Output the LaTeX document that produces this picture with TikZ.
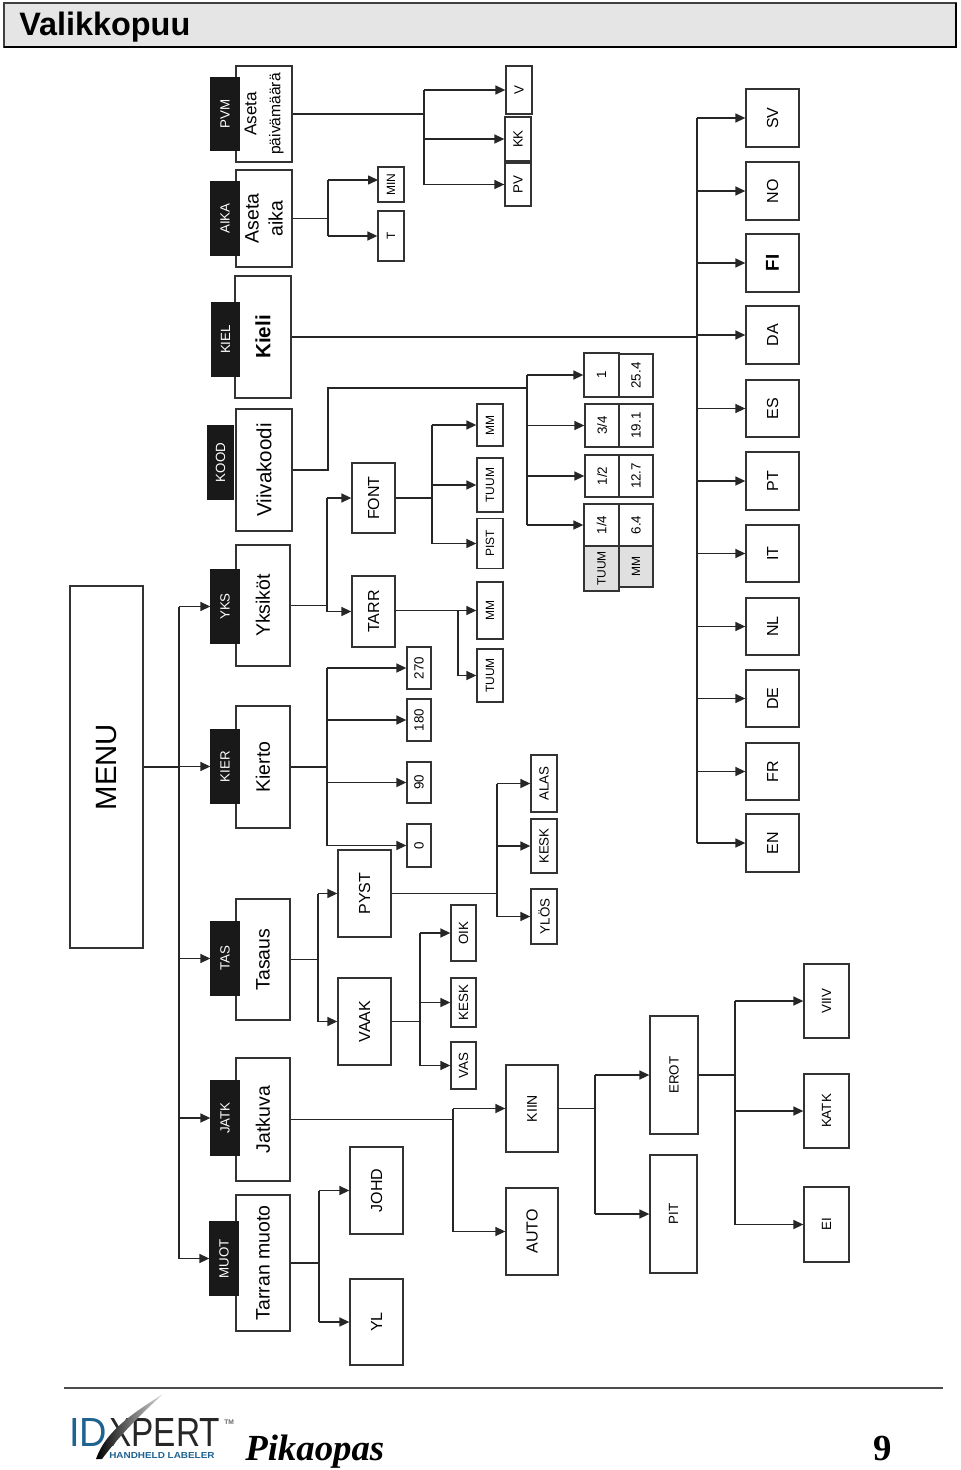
\documentclass[tikz,border=0pt]{standalone}
\usepackage{fontspec}
\usepackage{graphicx}
\setmainfont{Liberation Serif}
\setsansfont{Liberation Sans}
\usetikzlibrary{arrows.meta}

\definecolor{logoblue}{HTML}{1F6391}

\begin{document}
\begin{tikzpicture}[x=0.75pt, y=-0.75pt, >={Triangle[length=7.5pt,width=6.8pt]}]

  % ---------- Styling ----------
  \tikzset{
    dims/.style 2 args={minimum width=#1*0.75pt, minimum height=#2*0.75pt},
    cell/.style={draw=black!80, line width=1pt, rotate=90, inner sep=0pt, align=center, fill=white},
    menubox/.style={cell, font=\fontsize{22}{24}\selectfont\sffamily},
    mainbox/.style={cell, font=\fontsize{14.6}{18}\selectfont\sffamily},
    tabbox/.style={cell, draw=black!90, fill=black!90, text=white, font=\fontsize{10}{12}\selectfont\sffamily},
    subbox/.style={cell, font=\fontsize{12}{14}\selectfont\sffamily},
    leafbox/.style={cell, font=\fontsize{10}{12}\selectfont\sffamily},
    tinybox/.style={cell, font=\fontsize{9}{11}\selectfont\sffamily},
    wire/.style={draw=black!85, line width=1pt},
    link/.style={wire, ->}
  }

  \useasboundingbox (0,0) rectangle (960,1470);

  % ---------- Heading ----------
  \filldraw[fill=black!10, draw=black!75, line width=1pt] (4,3) rectangle (956,47);
  \draw[black, line width=2pt] (4,47) -- (956,47) -- (956,3);
  \node[anchor=base west, inner sep=0pt, font=\fontsize{24.3}{26}\selectfont\sffamily\bfseries] (heading) at (19,36) {Valikkopuu};

  % ---------- Root and top level ----------
  \node[menubox, dims={362}{73}] (menu) at (106.5,767) {MENU};

  \node[mainbox, dims={96}{56}] (datebox) at (264,114) {{\fontsize{12.8}{16}\selectfont Aseta}\\{\fontsize{11.7}{16}\selectfont päivämäärä}};
  \node[mainbox, dims={97}{56}] (timebox) at (264,218.5) {Aseta\\aika};
  \node[mainbox, dims={122}{56}, font=\fontsize{15.5}{18}\selectfont\sffamily\bfseries] (langbox) at (263,337) {Kieli};
  \node[mainbox, dims={122}{56}, font=\fontsize{15.4}{18}\selectfont\sffamily] (codebox) at (264,470) {Viivakoodi};
  \node[mainbox, dims={121}{54}] (unitbox) at (263,605.5) {Yksiköt};
  \node[mainbox, dims={122}{54}] (turnbox) at (263,767) {Kierto};
  \node[mainbox, dims={121}{54}] (alignbox) at (263,959.5) {Tasaus};
  \node[mainbox, dims={123}{54}] (feedbox) at (263,1119.5) {Jatkuva};
  \node[mainbox, dims={136}{54}] (shapebox) at (263,1263) {Tarran muoto};

  \node[tabbox, dims={72}{28}] (datetab) at (225,114) {PVM};
  \node[tabbox, dims={73}{28}] (timetab) at (225,218.5) {AIKA};
  \node[tabbox, dims={73}{28}] (langtab) at (225.5,339.5) {KIEL};
  \node[tabbox, dims={73}{26}] (codetab) at (220.5,462.5) {KOOD};
  \node[tabbox, dims={73}{28}] (unittab) at (225,606.5) {YKS};
  \node[tabbox, dims={73}{28}] (turntab) at (225,766.5) {KIER};
  \node[tabbox, dims={73}{28}] (aligntab) at (225,958.5) {TAS};
  \node[tabbox, dims={74}{28}] (feedtab) at (225,1118) {JATK};
  \node[tabbox, dims={73}{28}] (shapetab) at (224,1258.5) {MUOT};

  % ---------- Date and time ----------
  \node[leafbox, dims={48}{26}] (dayv) at (519,90) {V};
  \node[leafbox, dims={44}{26}] (daykk) at (518,139) {KK};
  \node[leafbox, dims={43}{26}] (daypv) at (518,184.5) {PV};
  \node[tinybox, dims={35}{26}] (timemin) at (391,184.5) {MIN};
  \node[tinybox, dims={50}{26}] (timet) at (391,236) {T};

  % ---------- Languages ----------
  \node[subbox, dims={58}{53}] (sv) at (772.5,118) {SV};
  \node[subbox, dims={58}{53}] (no) at (772.5,191) {NO};
  \node[subbox, dims={58}{53}, font=\fontsize{14}{16}\selectfont\sffamily\bfseries] (fi) at (772.5,263) {FI};
  \node[subbox, dims={58}{53}] (da) at (772.5,335) {DA};
  \node[subbox, dims={57}{53}] (es) at (772.5,408.5) {ES};
  \node[subbox, dims={58}{53}] (pt) at (772.5,481) {PT};
  \node[subbox, dims={57}{53}] (it) at (772.5,553.5) {IT};
  \node[subbox, dims={57}{53}] (nl) at (772.5,626.5) {NL};
  \node[subbox, dims={57}{53}] (de) at (772.5,698.5) {DE};
  \node[subbox, dims={57}{53}] (fr) at (772.5,771.5) {FR};
  \node[subbox, dims={58}{53}] (en) at (772.5,843) {EN};

  % ---------- Code table ----------
  \node[leafbox, dims={44}{35}] (one) at (601.5,375) {1};
  \node[leafbox, dims={43}{34}] (onemm) at (636,375.5) {25.4};
  \node[leafbox, dims={43}{34}] (threeq) at (602,425.5) {3/4};
  \node[leafbox, dims={43}{34}] (threeqmm) at (636,425.5) {19.1};
  \node[leafbox, dims={42}{34}] (half) at (602,476) {1/2};
  \node[leafbox, dims={42}{34}] (halfmm) at (636,476) {12.7};
  \node[leafbox, dims={42}{35}] (quarter) at (601.5,525) {1/4};
  \node[leafbox, dims={42}{34}] (quartermm) at (636,525) {6.4};
  \node[tinybox, dims={45}{35}, fill=black!12] (inchhead) at (601.5,568.5) {TUUM};
  \node[tinybox, dims={41}{34}, fill=black!12] (mmhead) at (636,566.5) {MM};

  % ---------- Units ----------
  \node[subbox, dims={70}{43}] (font) at (373.5,498) {FONT};
  \node[subbox, dims={71}{43}] (tarr) at (373.5,611.5) {TARR};
  \node[tinybox, dims={42}{26}] (fontmm) at (490,425) {MM};
  \node[tinybox, dims={54}{26}] (fontinch) at (490,485) {TUUM};
  \node[tinybox, dims={50}{26}] (fontpist) at (490,543.5) {PIST};
  \node[tinybox, dims={57}{26}] (tarrmm) at (490,610.5) {MM};
  \node[tinybox, dims={53}{26}] (tarrinch) at (490,675.5) {TUUM};

  % ---------- Rotation ----------
  \node[leafbox, dims={42}{24}] (deg270) at (419,668) {270};
  \node[leafbox, dims={42}{24}] (deg180) at (419,720) {180};
  \node[leafbox, dims={41}{24}] (deg90) at (419,782.5) {90};
  \node[leafbox, dims={43}{24}] (deg0) at (419,845.5) {0};

  % ---------- Alignment ----------
  \node[subbox, dims={87}{53}] (pyst) at (364.5,893.5) {PYST};
  \node[subbox, dims={87}{53}] (vaak) at (364.5,1021.5) {VAAK};
  \node[leafbox, dims={57}{26}] (alas) at (544,783.5) {ALAS};
  \node[leafbox, dims={54}{26}] (pystmid) at (544,846) {KESK};
  \node[leafbox, dims={55}{26}] (ylos) at (544,916.5) {YLÖS};
  \node[leafbox, dims={56}{25}] (oik) at (463.5,933) {OIK};
  \node[leafbox, dims={49}{25}] (vaakmid) at (463.5,1002.5) {KESK};
  \node[leafbox, dims={47}{25}] (vas) at (463.5,1065.5) {VAS};

  % ---------- Feed ----------
  \node[subbox, dims={87}{52}, font=\fontsize{10.5}{12}\selectfont\sffamily] (kiin) at (532,1108.5) {KIIN};
  \node[subbox, dims={87}{52}] (auto) at (532,1231.5) {AUTO};
  \node[leafbox, dims={118}{48}] (erot) at (674,1075) {EROT};
  \node[leafbox, dims={118}{47}] (pit) at (673.5,1214) {PIT};
  \node[leafbox, dims={74}{45}] (viiv) at (826.5,1001) {VIIV};
  \node[leafbox, dims={74}{45}] (katk) at (826.5,1111) {KATK};
  \node[leafbox, dims={75}{45}] (ei) at (826.5,1224.5) {EI};

  % ---------- Label shape ----------
  \node[subbox, dims={87}{53}] (johd) at (376.5,1190.5) {JOHD};
  \node[subbox, dims={86}{53}] (yl) at (376.5,1322) {YL};

  % ---------- Bus positions ----------
  \coordinate (menubus) at (179,0);
  \coordinate (datebus) at (424,0);
  \coordinate (timebus) at (328,0);
  \coordinate (minpin) at (378,180);
  \coordinate (langbus) at (697,0);
  \coordinate (codebend) at (328,388);
  \coordinate (codebus) at (527,0);
  \coordinate (unitbus) at (327,0);
  \coordinate (fontbus) at (432,0);
  \coordinate (tarrbus) at (458,0);
  \coordinate (turnbus) at (327,0);
  \coordinate (alignbus) at (318,0);
  \coordinate (pystbus) at (497,0);
  \coordinate (vaakbus) at (420,0);
  \coordinate (feedbus) at (453,0);
  \coordinate (kiinbus) at (595,0);
  \coordinate (erotbus) at (735,0);
  \coordinate (shapebus) at (319,0);

  % ---------- Root connectors ----------
  \draw[wire] (menu.south) -- (menubus |- menu);
  \draw[wire] (menubus |- unittab) -- (menubus |- shapetab);
  \draw[link] (menubus |- unittab) -- (unittab.north);
  \draw[link] (menubus |- turntab) -- (turntab.north);
  \draw[link] (menubus |- aligntab) -- (aligntab.north);
  \draw[link] (menubus |- feedtab) -- (feedtab.north);
  \draw[link] (menubus |- shapetab) -- (shapetab.north);

  % ---------- Date and time connectors ----------
  \draw[wire] (datebox.south) -- (datebus |- datebox);
  \draw[wire] (datebus |- dayv) -- (datebus |- daypv);
  \draw[link] (datebus |- dayv) -- (dayv.north);
  \draw[link] (datebus |- daykk) -- (daykk.north);
  \draw[link] (datebus |- daypv) -- (daypv.north);
  \draw[wire] (timebox.south) -- (timebus |- timebox);
  \draw[wire] (timebus |- minpin) -- (timebus |- timet);
  \draw[link] (timebus |- minpin) -- (minpin);
  \draw[link] (timebus |- timet) -- (timet.north);

  % ---------- Language connectors ----------
  \draw[wire] (langbox.south) -- (langbus |- langbox);
  \draw[wire] (langbus |- sv) -- (langbus |- en);
  \draw[link] (langbus |- sv) -- (sv.north);
  \draw[link] (langbus |- no) -- (no.north);
  \draw[link] (langbus |- fi) -- (fi.north);
  \draw[link] (langbus |- da) -- (da.north);
  \draw[link] (langbus |- es) -- (es.north);
  \draw[link] (langbus |- pt) -- (pt.north);
  \draw[link] (langbus |- it) -- (it.north);
  \draw[link] (langbus |- nl) -- (nl.north);
  \draw[link] (langbus |- de) -- (de.north);
  \draw[link] (langbus |- fr) -- (fr.north);
  \draw[link] (langbus |- en) -- (en.north);

  % ---------- Code connectors ----------
  \draw[wire] (codebox.south) -| (codebend) -- (codebus |- codebend);
  \draw[wire] (codebus |- one) -- (codebus |- quarter);
  \draw[link] (codebus |- one) -- (one.north);
  \draw[link] (codebus |- threeq) -- (threeq.north);
  \draw[link] (codebus |- half) -- (half.north);
  \draw[link] (codebus |- quarter) -- (quarter.north);

  % ---------- Unit connectors ----------
  \draw[wire] (unitbox.south) -- (unitbus |- unitbox);
  \draw[wire] (unitbus |- font) -- (unitbus |- tarr);
  \draw[link] (unitbus |- font) -- (font.north);
  \draw[link] (unitbus |- tarr) -- (tarr.north);
  \draw[wire] (font.south) -- (fontbus |- font);
  \draw[wire] (fontbus |- fontmm) -- (fontbus |- fontpist);
  \draw[link] (fontbus |- fontmm) -- (fontmm.north);
  \draw[link] (fontbus |- fontinch) -- (fontinch.north);
  \draw[link] (fontbus |- fontpist) -- (fontpist.north);
  \draw[link] (tarr.south) -- (tarr.south |- tarrmm) -- (tarrmm.north);
  \draw[wire] (tarrbus |- tarrmm) -- (tarrbus |- tarrinch);
  \draw[link] (tarrbus |- tarrinch) -- (tarrinch.north);

  % ---------- Rotation connectors ----------
  \draw[wire] (turnbox.south) -- (turnbus |- turnbox);
  \draw[wire] (turnbus |- deg270) -- (turnbus |- deg0);
  \draw[link] (turnbus |- deg270) -- (deg270.north);
  \draw[link] (turnbus |- deg180) -- (deg180.north);
  \draw[link] (turnbus |- deg90) -- (deg90.north);
  \draw[link] (turnbus |- deg0) -- (deg0.north);

  % ---------- Alignment connectors ----------
  \draw[wire] (alignbox.south) -- (alignbus |- alignbox);
  \draw[wire] (alignbus |- pyst) -- (alignbus |- vaak);
  \draw[link] (alignbus |- pyst) -- (pyst.north);
  \draw[link] (alignbus |- vaak) -- (vaak.north);
  \draw[wire] (pyst.south) -- (pystbus |- pyst);
  \draw[wire] (pystbus |- alas) -- (pystbus |- ylos);
  \draw[link] (pystbus |- alas) -- (alas.north);
  \draw[link] (pystbus |- pystmid) -- (pystmid.north);
  \draw[link] (pystbus |- ylos) -- (ylos.north);
  \draw[wire] (vaak.south) -- (vaakbus |- vaak);
  \draw[wire] (vaakbus |- oik) -- (vaakbus |- vas);
  \draw[link] (vaakbus |- oik) -- (oik.north);
  \draw[link] (vaakbus |- vaakmid) -- (vaakmid.north);
  \draw[link] (vaakbus |- vas) -- (vas.north);

  % ---------- Feed connectors ----------
  \draw[wire] (feedbox.south) -- (feedbus |- feedbox);
  \draw[wire] (feedbus |- kiin) -- (feedbus |- auto);
  \draw[link] (feedbus |- kiin) -- (kiin.north);
  \draw[link] (feedbus |- auto) -- (auto.north);
  \draw[wire] (kiin.south) -- (kiinbus |- kiin);
  \draw[wire] (kiinbus |- erot) -- (kiinbus |- pit);
  \draw[link] (kiinbus |- erot) -- (erot.north);
  \draw[link] (kiinbus |- pit) -- (pit.north);
  \draw[wire] (erot.south) -- (erotbus |- erot);
  \draw[wire] (erotbus |- viiv) -- (erotbus |- ei);
  \draw[link] (erotbus |- viiv) -- (viiv.north);
  \draw[link] (erotbus |- katk) -- (katk.north);
  \draw[link] (erotbus |- ei) -- (ei.north);

  % ---------- Label shape connectors ----------
  \draw[wire] (shapebox.south) -- (shapebus |- shapebox);
  \draw[wire] (shapebus |- johd) -- (shapebus |- yl);
  \draw[link] (shapebus |- johd) -- (johd.north);
  \draw[link] (shapebus |- yl) -- (yl.north);

  % ---------- Footer ----------
  \draw[black!70, line width=2pt] (64,1388) -- (943,1388);

  \node[anchor=south west, inner sep=0pt, text=logoblue, font=\sffamily] (logoid) at (69,1447) {\resizebox{28.5pt}{21pt}{ID}};
  \node[anchor=south west, inner sep=0pt, text=black!85, font=\sffamily] (logoname) at (109,1447) {\resizebox{83pt}{21pt}{XPERT}};
  \shade[left color=black, right color=black!15]
    (96,1459) .. controls (106,1430) and (135,1412) .. (163,1394)
    .. controls (140,1415) and (120,1435) .. (102,1459) -- cycle;
  \node[anchor=west, inner sep=0pt, text=black!60, font=\fontsize{5}{6}\selectfont\sffamily\bfseries] (logotm) at (224,1422) {TM};
  \node[anchor=south west, inner sep=0pt, text=logoblue, font=\sffamily\bfseries] (logosub) at (109,1459) {\resizebox{79pt}{4.5pt}{HANDHELD LABELER}};

  \node[anchor=base west, inner sep=0pt, font=\fontsize{27.6}{30}\selectfont\rmfamily\bfseries\itshape] (guide) at (245,1460) {Pikaopas};
  \node[anchor=base west, inner sep=0pt, font=\fontsize{27.6}{30}\selectfont\rmfamily\bfseries] (pagenum) at (873,1460) {9};

\end{tikzpicture}
\end{document}
